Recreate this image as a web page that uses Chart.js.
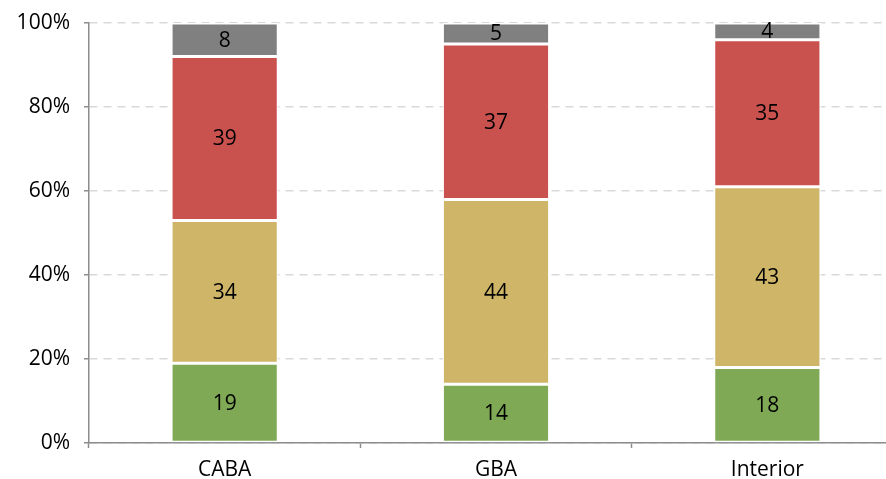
<!DOCTYPE html>
<html>
<head>
<meta charset="utf-8">
<script src="https://cdn.jsdelivr.net/npm/chart.js@4.4.1/dist/chart.umd.min.js"></script>
<style>
  html, body { margin: 0; padding: 0; background: #fff; overflow: hidden; }
  #wrap { width: 886px; height: 479px; overflow: hidden; position: relative; }
  #box { width: 906px; height: 479px; position: absolute; left: 0; top: 0; }
</style>
</head>
<body>
<div id="wrap"><div id="box"><canvas id="c"></canvas></div></div>
<script>
const categories = ['CABA', 'GBA', 'Interior'];
const seriesGreen = [19, 14, 18];
const seriesYellow = [34, 44, 43];
const seriesRed = [39, 37, 35];
const seriesGray = [8, 5, 4];
const yTicks = [0, 20, 40, 60, 80, 100];

const FONT = '"Open Sans", "Noto Sans", sans-serif';

const labelPlugin = {
  id: 'segLabels',
  afterDatasetsDraw(chart) {
    const ctx = chart.ctx;
    ctx.save();
    ctx.font = '21px ' + FONT;
    ctx.fillStyle = '#000';
    ctx.textAlign = 'center';
    ctx.textBaseline = 'middle';
    chart.data.datasets.forEach((ds, di) => {
      const meta = chart.getDatasetMeta(di);
      meta.data.forEach((el, i) => {
        const y = (el.y + el.base) / 2;
        ctx.fillText(String(ds.data[i]), el.x, y + 1);
      });
    });
    ctx.restore();
  }
};

const mk = (data, color) => ({
  data, backgroundColor: color, borderColor: '#ffffff', borderWidth: 1.5,
  borderSkipped: false, barPercentage: 0.395, categoryPercentage: 1.0
});

new Chart(document.getElementById('c'), {
  type: 'bar',
  data: {
    labels: categories,
    datasets: [
      mk(seriesGreen, '#7fa954'),
      mk(seriesYellow, '#cfb567'),
      mk(seriesRed, '#c9524f'),
      mk(seriesGray, '#808080')
    ]
  },
  options: {
    responsive: true,
    maintainAspectRatio: false,
    animation: false,
    layout: { padding: { top: 23, right: 3, left: 0, bottom: 0 } },
    plugins: { legend: { display: false }, tooltip: { enabled: false } },
    scales: {
      x: {
        stacked: true,
        afterFit: s => { s.height = 36; },
        grid: { offset: true, drawOnChartArea: false, drawTicks: true, tickLength: 5, tickColor: '#8c8c8c', tickWidth: 1.5 },
        border: { display: true, color: '#8c8c8c', width: 1.5 },
        ticks: { color: '#000', font: { family: FONT, size: 21 }, padding: 9 }
      },
      y: {
        stacked: true,
        min: 0, max: 100,
        afterFit: s => { s.width = 89; s.paddingTop = 0; s.paddingBottom = 0; },
        afterBuildTicks: s => { s.ticks = yTicks.map(v => ({ value: v })); },
        grid: { color: '#d9d9d9', lineWidth: 1.5, drawTicks: true, tickLength: 5, tickColor: '#8c8c8c', tickWidth: 1.5 },
        border: { display: true, color: '#8c8c8c', width: 1.5, dash: [8, 6] },
        ticks: { color: '#000', font: { family: FONT, size: 21 }, padding: 14, callback: v => v + '%' }
      }
    }
  },
  plugins: [labelPlugin]
});
</script>
</body>
</html>
